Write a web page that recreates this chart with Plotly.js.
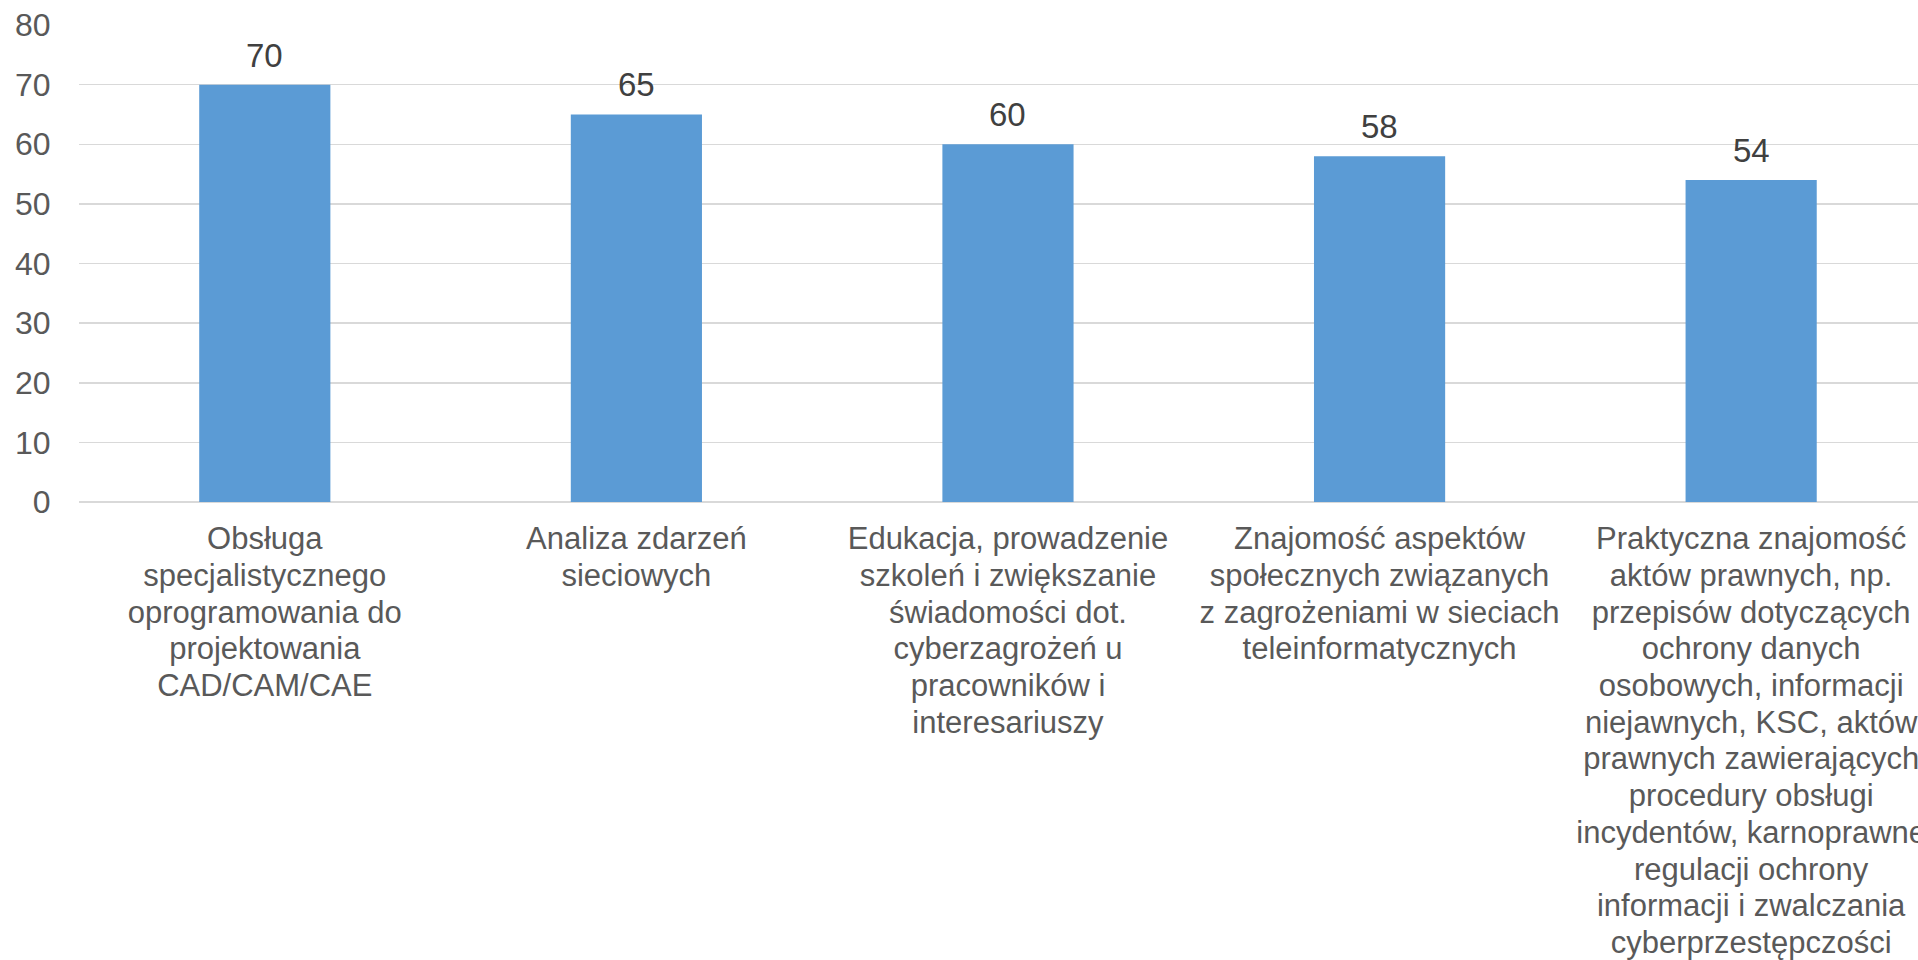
<!DOCTYPE html>
<html>
<head>
<meta charset="utf-8">
<script src="https://cdn.plot.ly/plotly-3.0.1.min.js"></script>
<style>html,body{margin:0;padding:0;background:#fff;}#chart{width:1918px;height:960px;}</style>
</head>
<body>
<div id="chart"></div>
<script>
const categories = [
  "Obsługa<br>specjalistycznego<br>oprogramowania do<br>projektowania<br>CAD/CAM/CAE",
  "Analiza zdarzeń<br>sieciowych",
  "Edukacja, prowadzenie<br>szkoleń i zwiększanie<br>świadomości dot.<br>cyberzagrożeń u<br>pracowników i<br>interesariuszy",
  "Znajomość aspektów<br>społecznych związanych<br>z zagrożeniami w sieciach<br>teleinformatycznych",
  "Praktyczna znajomość<br>aktów prawnych, np.<br>przepisów dotyczących<br>ochrony danych<br>osobowych, informacji<br>niejawnych, KSC, aktów<br>prawnych zawierających<br>procedury obsługi<br>incydentów, karnoprawne<br>regulacji ochrony<br>informacji i zwalczania<br>cyberprzestępczości"
];
const values = [70, 65, 60, 58, 54];
const yTicks = [0, 10, 20, 30, 40, 50, 60, 70, 80];

const FONT = '"Liberation Sans", Arial, sans-serif';
const LABEL_SIZE = 31;
const LINE_PX = 36.7;

const trace = {
  type: 'bar',
  x: categories,
  y: values,
  width: 0.353,
  marker: {color: '#5B9BD5'},
  hoverinfo: 'skip'
};

const annotations = values.map((v, i) => ({
  x: categories[i],
  y: v,
  xref: 'x', yref: 'y',
  text: String(v),
  showarrow: false,
  yanchor: 'bottom',
  yshift: 9,
  font: {family: FONT, size: 33, color: '#404040'}
}));

const layout = {
  width: 1918,
  height: 960,
  margin: {l: 79, r: 0, t: 25, b: 458, pad: 0},
  paper_bgcolor: '#ffffff',
  plot_bgcolor: '#ffffff',
  showlegend: false,
  font: {family: FONT, size: LABEL_SIZE, color: '#595959'},
  xaxis: {
    type: 'category',
    range: [-0.5, 4.449],
    automargin: false,
    showgrid: false,
    showline: false,
    zeroline: false,
    ticks: 'outside',
    ticklen: 9,
    tickcolor: 'rgba(0,0,0,0)',
    tickangle: 0,
    tickfont: {family: FONT, size: LABEL_SIZE, color: '#595959'}
  },
  yaxis: {
    range: [0, 80],
    tickmode: 'array',
    tickvals: yTicks,
    ticktext: yTicks.map(String),
    automargin: false,
    showgrid: true,
    gridcolor: '#D9D9D9',
    gridwidth: 1.5,
    zeroline: true,
    zerolinecolor: '#D9D9D9',
    zerolinewidth: 1.5,
    showline: false,
    ticks: 'outside',
    ticklen: 21,
    tickcolor: 'rgba(0,0,0,0)',
    tickfont: {family: FONT, size: 32, color: '#595959'}
  },
  annotations: annotations
};

function tightenLines(gd) {
  const ratio = (LINE_PX / LABEL_SIZE) / 1.3;
  gd.querySelectorAll('.xtick text tspan.line').forEach(t => {
    const dy = t.getAttribute('dy');
    if (dy && /em$/.test(dy) && !t.dataset.tight) {
      t.setAttribute('dy', (parseFloat(dy) * ratio) + 'em');
      t.dataset.tight = '1';
    }
  });
}

const gd = document.getElementById('chart');
Plotly.newPlot(gd, [trace], layout, {displayModeBar: false, staticPlot: true}).then(() => {
  tightenLines(gd);
  gd.on('plotly_afterplot', () => tightenLines(gd));
});
</script>
</body>
</html>
